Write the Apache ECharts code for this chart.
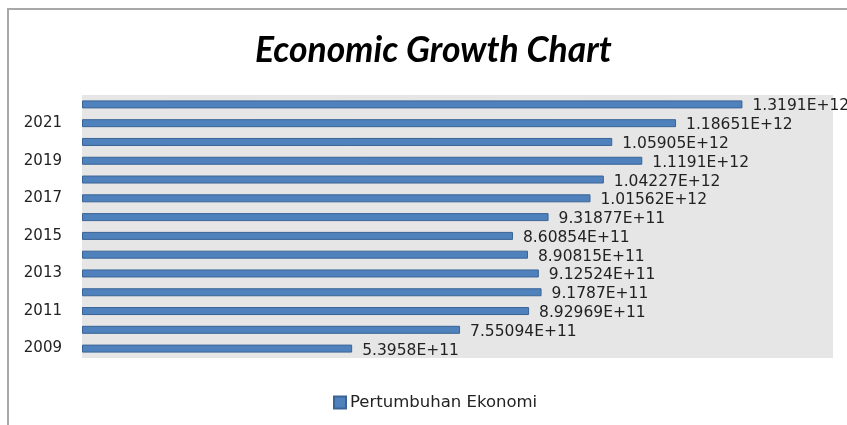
<!DOCTYPE html>
<html>
<head>
<meta charset="utf-8">
<script src="https://cdn.jsdelivr.net/npm/echarts@6/dist/echarts.min.js"></script>
<style>
html,body{margin:0;padding:0;background:#fff;}
#main{width:847px;height:425px;}
</style>
</head>
<body>
<div id="main"></div>
<script>
var years = ['2009','2010','2011','2012','2013','2014','2015','2016','2017','2018','2019','2020','2021','2022'];
var values = [5.3958e11, 7.55094e11, 8.92969e11, 9.1787e11, 9.12524e11, 8.90815e11, 8.60854e11, 9.31877e11, 1.01562e12, 1.04227e12, 1.1191e12, 1.05905e12, 1.18651e12, 1.3191e12];
var seriesName = 'Pertumbuhan Ekonomi';
var titleText = 'Economic Growth Chart';

function fmt(v){
  return v.toExponential().toUpperCase();
}

var chart = echarts.init(document.getElementById('main'));
chart.setOption({
  animation: false,
  backgroundColor: '#fff',
  graphic: [{
    type: 'rect',
    shape: {x: 8, y: 9, width: 900, height: 500},
    style: {fill: 'none', stroke: '#a8a8a8', lineWidth: 2},
    silent: true, z: -1
  }],
  title: {
    text: titleText,
    left: 250,
    top: 28,
    textStyle: {fontFamily: 'Lato', fontStyle: 'italic', fontWeight: 'bold', fontSize: 35.5, color: '#000'}
  },
  legend: {
    bottom: 9,
    left: 328,
    itemWidth: 12, itemHeight: 12, itemGap: 4,
    icon: 'rect',
    data: [seriesName],
    textStyle: {fontFamily: 'DejaVu Sans', fontSize: 16.5, color: '#222', padding: [0,0,0,-1]}
  },
  grid: {
    left: 82, right: 14, top: 95, bottom: 67,
    show: true, backgroundColor: '#e6e6e6', borderWidth: 0,
    containLabel: false
  },
  xAxis: {
    type: 'value', min: 0, max: 1.5e12,
    show: false
  },
  yAxis: {
    type: 'category',
    data: years,
    axisLine: {show: false},
    axisTick: {show: false},
    axisLabel: {interval: 1, margin: 20, fontFamily: 'DejaVu Sans', fontSize: 15, color: '#222', lineHeight: 20, verticalAlign: 'middle', padding: [4,0,0,0]}
  },
  series: [{
    name: seriesName,
    type: 'bar',
    data: values,
    barWidth: 8,
    itemStyle: {color: '#4f81bd', borderColor: '#3a6496', borderWidth: 1},
    label: {
      show: true, position: 'right', distance: 10, offset: [0, 2],
      formatter: function(p){ return fmt(p.value); },
      fontFamily: 'DejaVu Sans', fontSize: 15.5, color: '#222'
    }
  }]
});
</script>
</body>
</html>
